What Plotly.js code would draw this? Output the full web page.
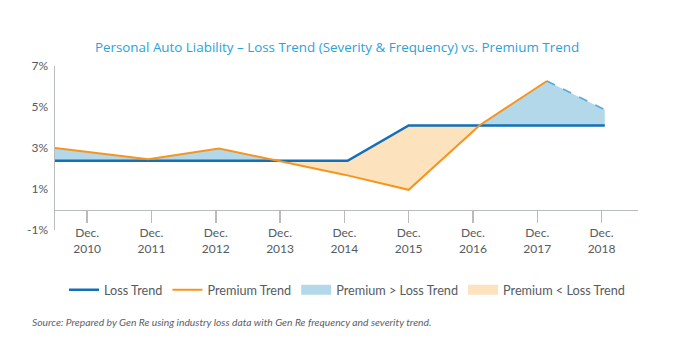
<!DOCTYPE html>
<html><head><meta charset="utf-8">
<script src="https://cdn.plot.ly/plotly-3.0.1.min.js"></script>
<style>html,body{margin:0;padding:0;background:#fff}#chart{width:674px;height:360px}</style>
</head><body><div id="chart"></div>
<script>
// Data (percent)
const lossX = [2009.5, 2014.05, 2015.0, 2018.05];
const lossY = [2.38, 2.38, 4.1, 4.1];
const premX = [2009.5, 2010.95, 2012.05, 2013.0, 2014.0, 2015.0, 2016.1, 2017.15];
const premY = [3.0, 2.45, 2.98, 2.35, 1.7, 0.96, 4.1, 6.27];
const projX = [2017.15, 2018.05];
const projY = [6.27, 4.87];
const tickYears = [2010, 2011, 2012, 2013, 2014, 2015, 2016, 2017, 2018];
const tickLabels = tickYears.map(y => 'Dec.<br>' + y);
const yTicks = [-1, 1, 3, 5, 7];
const yTickLabels = ['-1%', '1%', '3%', '5%', '7%'];

// Build fill regions between the two series (library draws them)
const pAllX = premX.concat(projX.slice(1));
const pAllY = premY.concat(projY.slice(1));
function interp(xs, ys, x) {
  for (let i = 0; i < xs.length - 1; i++) {
    if (x >= xs[i] && x <= xs[i + 1]) {
      const t = (x - xs[i]) / (xs[i + 1] - xs[i]);
      return ys[i] + t * (ys[i + 1] - ys[i]);
    }
  }
  return x < xs[0] ? ys[0] : ys[ys.length - 1];
}
let grid = Array.from(new Set(lossX.concat(pAllX))).sort((a, b) => a - b);
let gx = [];
for (let i = 0; i < grid.length; i++) {
  gx.push(grid[i]);
  if (i < grid.length - 1) {
    const a = grid[i], b = grid[i + 1];
    const da = interp(pAllX, pAllY, a) - interp(lossX, lossY, a);
    const db = interp(pAllX, pAllY, b) - interp(lossX, lossY, b);
    if (da * db < 0) gx.push(a + (b - a) * da / (da - db));
  }
}
const gLoss = gx.map(x => interp(lossX, lossY, x));
const gPrem = gx.map(x => interp(pAllX, pAllY, x));
const gMax = gx.map((x, i) => Math.max(gLoss[i], gPrem[i]));
const gMin = gx.map((x, i) => Math.min(gLoss[i], gPrem[i]));

const BLUE = '#1170b8', ORANGE = '#f7941d', FILLB = '#b3d8e9', FILLO = '#fde2be';
const traces = [
  {x: gx, y: gLoss, mode: 'lines', line: {width: 0}, showlegend: false, hoverinfo: 'skip'},
  {x: gx, y: gMax, mode: 'lines', line: {width: 0}, fill: 'tonexty', fillcolor: FILLB, showlegend: false, hoverinfo: 'skip'},
  {x: gx, y: gLoss, mode: 'lines', line: {width: 0}, showlegend: false, hoverinfo: 'skip'},
  {x: gx, y: gMin, mode: 'lines', line: {width: 0}, fill: 'tonexty', fillcolor: FILLO, showlegend: false, hoverinfo: 'skip'},
  {x: lossX, y: lossY, mode: 'lines', name: 'Loss Trend', line: {color: BLUE, width: 2.5}},
  {x: premX, y: premY, mode: 'lines', name: 'Premium Trend', line: {color: ORANGE, width: 2}},
  {x: projX, y: projY, mode: 'lines', showlegend: false, line: {color: '#5aa8d6', width: 1.5, dash: 'dash'}},
  {x: [null], y: [null], mode: 'lines', name: 'Premium > Loss Trend', line: {color: FILLB, width: 10}},
  {x: [null], y: [null], mode: 'lines', name: 'Premium < Loss Trend', line: {color: FILLO, width: 10}}
];

const layout = {
  width: 674, height: 360,
  margin: {l: 55, r: 36, t: 66, b: 130},
  paper_bgcolor: '#fff', plot_bgcolor: '#fff',
  font: {family: 'Lato, sans-serif', color: '#555b61', size: 12},
  title: {text: 'Personal Auto Liability – Loss Trend (Severity &amp; Frequency) vs. Premium Trend',
    font: {family: '"Open Sans", sans-serif', size: 13.4, color: '#2aa2db'},
    xref: 'container', x: 0.5, xanchor: 'center', yref: 'container', y: 1 - 47 / 360, yanchor: 'middle'},
  xaxis: {range: [2009.5, 2009.5 + 583 / 64.3], anchor: 'free', position: 0.125,
    tickvals: tickYears, ticktext: tickLabels, showgrid: false, zeroline: false,
    showline: true, linecolor: '#b8bcc0', linewidth: 1.5,
    ticks: 'outside', ticklen: 12, tickwidth: 1.5, tickcolor: '#b8bcc0',
    ticklabelstandoff: 0, tickfont: {size: 12, color: '#555b61'}},
  yaxis: {range: [-1, 7], tickvals: yTicks, ticktext: yTickLabels, showgrid: false, zeroline: false,
    showline: true, linecolor: '#b8bcc0', linewidth: 1.5, ticks: '', ticklabelstandoff: 3,
    tickfont: {size: 12, color: '#555b61'}},
  showlegend: true,
  legend: {orientation: 'h', xref: 'container', yref: 'container', x: 64 / 674, xanchor: 'left',
    y: 1 - 290 / 360, yanchor: 'middle', font: {size: 12.7, color: '#555b61'}, traceorder: 'normal'},
  annotations: [{text: '<i>Source: Prepared by Gen Re using industry loss data with Gen Re frequency and severity trend.</i>',
    xref: 'paper', yref: 'paper', x: (30 - 55) / 583, y: (230 - 322) / 164, xanchor: 'left', yanchor: 'middle',
    showarrow: false, font: {size: 10.3, color: '#5b6066'}}]
};
Plotly.newPlot('chart', traces, layout, {displayModeBar: false, staticPlot: true});
</script></body></html>
